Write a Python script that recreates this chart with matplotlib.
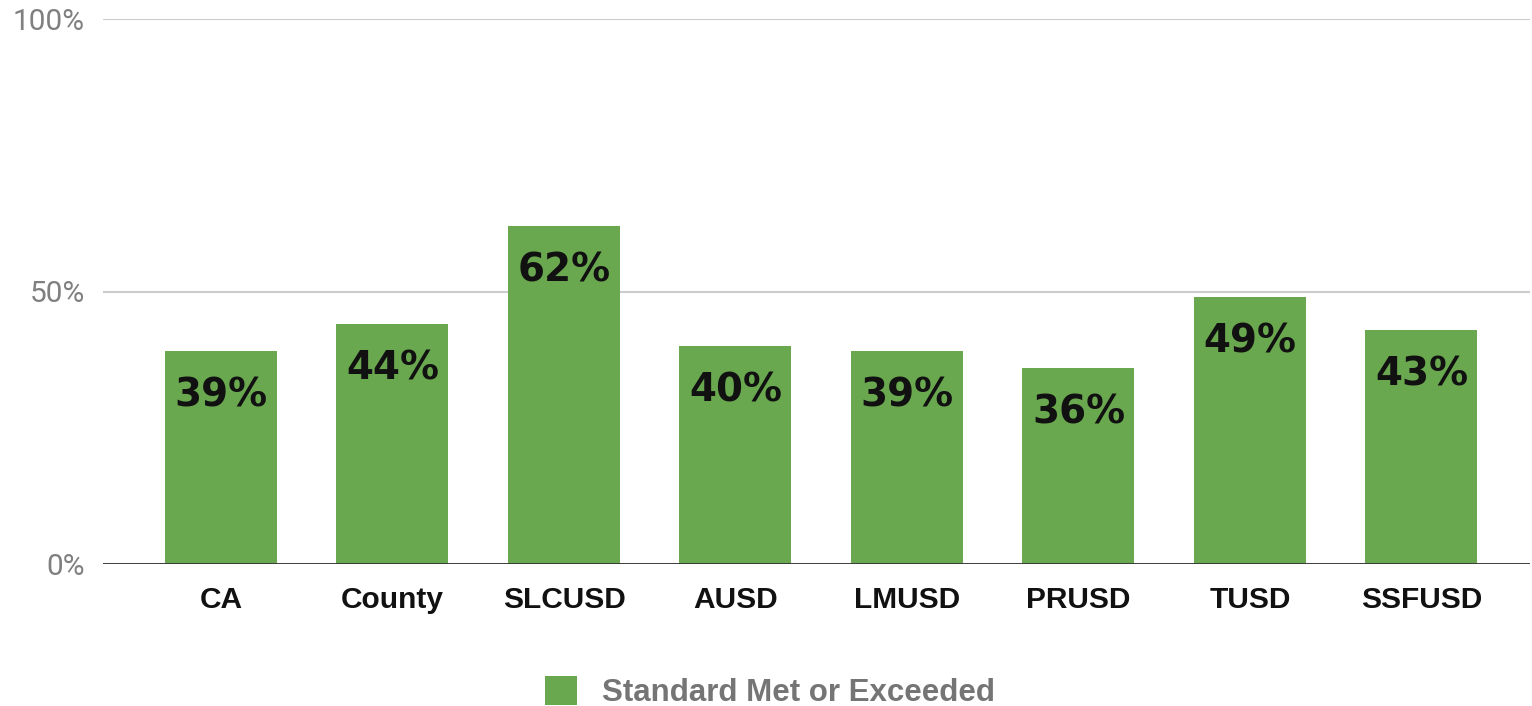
import matplotlib
matplotlib.use("Agg")
import matplotlib.pyplot as plt
from matplotlib.patches import Patch

categories = ["CA", "County", "SLCUSD", "AUSD", "LMUSD", "PRUSD", "TUSD", "SSFUSD"]
values = [39, 44, 62, 40, 39, 36, 49, 43]
yticks = [0, 50, 100]
ytick_labels = ["0%", "50%", "100%"]
series_name = "Standard Met or Exceeded"

green = "#6aa84f"

fig = plt.figure(figsize=(15.32, 7.06), dpi=100)
ax = fig.add_axes([103/1532, 1-564/706, (1530-103)/1532, (564-19)/706])

x = list(range(len(categories)))
ax.bar(x, values, width=0.653, color=green, zorder=3)
for xi, v in zip(x, values):
    ax.annotate(f"{v}%", (xi, v), xytext=(0, -32), textcoords="offset points",
                ha="center", va="center", fontsize=28, fontweight="bold",
                family="DejaVu Sans", color="#111111", zorder=4)

ax.set_xlim(-0.688, 7.633)
ax.set_ylim(0, 100)
ax.set_yticks(yticks)
ax.set_yticklabels(ytick_labels, family="Roboto", fontsize=21.5, color="#808080")
ax.set_xticks(x)
ax.set_xticklabels(categories, family="Liberation Sans", fontweight="bold", fontsize=21.5, color="#111111")
ax.tick_params(axis="both", length=0)
ax.tick_params(axis="y", pad=13)
ax.tick_params(axis="x", pad=16)
for s in ax.spines.values():
    s.set_visible(False)
ax.yaxis.grid(True, color="#cccccc", linewidth=1.5, zorder=0)
ax.axhline(0, color="#333333", linewidth=2, zorder=5)

leg = fig.legend(handles=[Patch(facecolor=green, edgecolor="none", label=series_name)],
                 loc="center", bbox_to_anchor=(770/1532, 1-692/706), frameon=False,
                 prop={"family": "Liberation Sans", "weight": "bold", "size": 22.5},
                 handlelength=1.05, handleheight=1.05, handletextpad=0.8)
for t in leg.get_texts():
    t.set_color("#757575")

fig.savefig("out.png", dpi=100)
